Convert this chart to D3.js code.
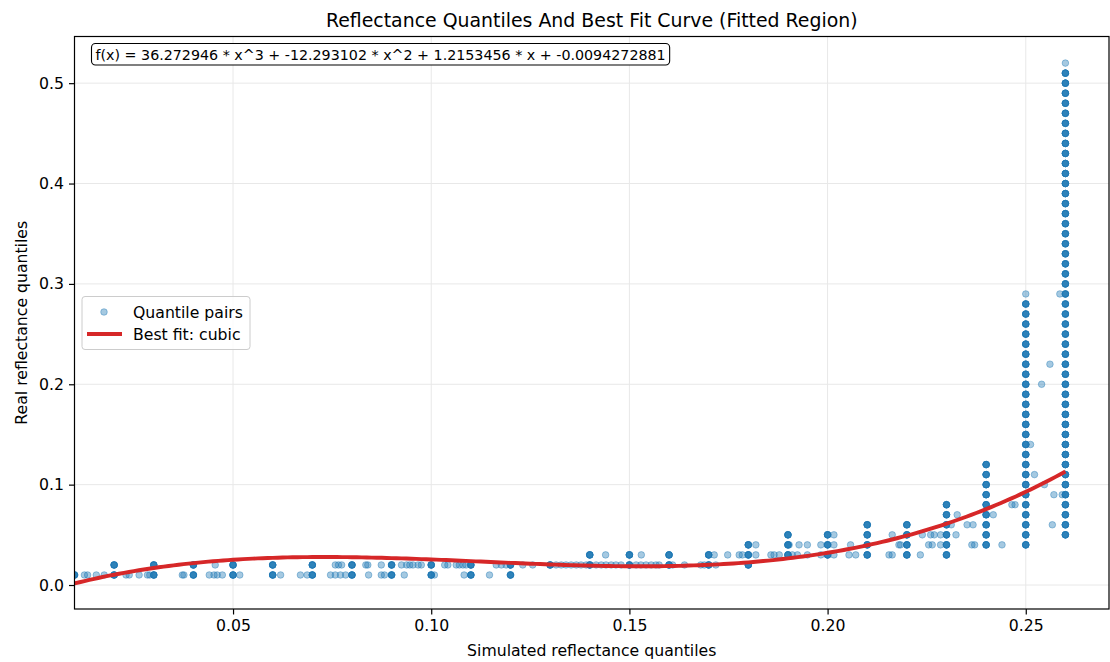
<!DOCTYPE html>
<html>
<head>
<meta charset="utf-8">
<script src="https://cdn.jsdelivr.net/npm/d3@7"></script>
<style>
  html, body { margin: 0; padding: 0; background: #fff; }
  svg { display: block; font-family: "DejaVu Sans", sans-serif; }
</style>
</head>
<body>
<svg id="chart" width="1110" height="662"></svg>
<script>
// Simulated-quantile grid columns where several quantile pairs coincide
const stackSim = [0.01, 0.02, 0.03, 0.04, 0.05, 0.06, 0.07, 0.08, 0.09, 0.10, 0.11, 0.12, 0.13,
  0.14, 0.15, 0.16, 0.17, 0.18, 0.19, 0.20, 0.21, 0.22, 0.23, 0.24, 0.25, 0.26];
// Real-quantile values stacked in each of those columns
const stackReal = [
  [0.01],
  [0.01, 0.02], [0.01, 0.02], [0.01, 0.02], [0.01, 0.02], [0.01, 0.02], [0.01, 0.02],
  [0.01, 0.02], [0.01, 0.02], [0.01, 0.02], [0.01, 0.02], [0.01, 0.02],
  [0.02],
  [0.02, 0.03], [0.02, 0.03], [0.02, 0.03], [0.02, 0.03],
  [0.02, 0.03, 0.04],
  [0.03, 0.04, 0.05], [0.03, 0.04, 0.05],
  [0.03, 0.04, 0.05, 0.06], [0.03, 0.04, 0.05, 0.06],
  [0.03, 0.04, 0.05, 0.06, 0.07, 0.08],
  [0.04, 0.05, 0.06, 0.07, 0.08, 0.09, 0.10, 0.11, 0.12],
  [0.04, 0.05, 0.06, 0.07, 0.08, 0.09, 0.10, 0.11, 0.12, 0.13, 0.14, 0.15, 0.16, 0.17, 0.18,
   0.19, 0.20, 0.21, 0.22, 0.23, 0.24, 0.25, 0.26, 0.27, 0.28],
  [0.05, 0.06, 0.07, 0.08, 0.09, 0.10, 0.11, 0.12, 0.13, 0.14, 0.15, 0.16, 0.17, 0.18, 0.19,
   0.20, 0.21, 0.22, 0.23, 0.24, 0.25, 0.26, 0.27, 0.28, 0.29, 0.30, 0.31, 0.32, 0.33, 0.34,
   0.35, 0.36, 0.37, 0.38, 0.39, 0.40, 0.41, 0.42, 0.43, 0.44, 0.45, 0.46, 0.47, 0.48, 0.49,
   0.50, 0.51]
];
// Number of coinciding pairs drawn at each stacked grid point
const stackDepth = 5;

// Real-quantile levels of the single (non-coinciding) pairs
const looseReal = [0.01, 0.02, 0.03, 0.04, 0.05, 0.06, 0.07, 0.08, 0.09, 0.10, 0.11, 0.14, 0.20, 0.22, 0.29, 0.52];
// Simulated quantiles of the single pairs at each level
const looseSim = [
  [0.0125, 0.0133, 0.0155, 0.0175, 0.023, 0.0238, 0.0263, 0.0284, 0.029, 0.0372, 0.0376, 0.044,
   0.0452, 0.046, 0.0473, 0.0517, 0.062, 0.067, 0.0687, 0.0746, 0.0758, 0.0771, 0.0784, 0.0842,
   0.0874, 0.0882, 0.0932, 0.1008, 0.1083, 0.1147],
  [0.0455, 0.0758, 0.0766, 0.0774, 0.0835, 0.084, 0.0874, 0.0925, 0.0938, 0.0946, 0.0954, 0.0967,
   0.0975, 0.1034, 0.1042, 0.1063, 0.1071, 0.108, 0.1088, 0.1164, 0.1177, 0.1189, 0.1231, 0.1256,
   0.1315, 0.1328, 0.134, 0.1353, 0.1366, 0.1378, 0.1391, 0.1416, 0.1429, 0.1441, 0.1454, 0.1466,
   0.1479, 0.1517, 0.1529, 0.1542, 0.1555, 0.1567, 0.1575, 0.1609, 0.1639, 0.168, 0.1689, 0.1718],
  [0.144, 0.153, 0.1714, 0.1748, 0.1777, 0.1785, 0.1819, 0.1857, 0.1865, 0.1878, 0.1911, 0.1924,
   0.1949, 0.1983, 0.2016, 0.2054, 0.2071, 0.2155, 0.2163, 0.2234],
  [0.1819, 0.1903, 0.1928, 0.1949, 0.1983, 0.2016, 0.2058, 0.218, 0.2184, 0.2255, 0.2264, 0.2285,
   0.2364, 0.2371, 0.244],
  [0.2016, 0.2163, 0.2239, 0.226, 0.2269, 0.2285, 0.2324],
  [0.2312, 0.2352, 0.2367, 0.2567],
  [0.2327, 0.2418],
  [0.2465, 0.2473],
  [0.2571, 0.2592],
  [0.2547],
  [0.2522],
  [0.2512],
  [0.254],
  [0.2561],
  [0.25, 0.2586],
  [0.26]
];

// Cubic best-fit coefficients, highest power first
const fitCoefficients = [36.272946, -12.293102, 1.2153456, -0.0094272881];
const fitRange = [0.01, 0.26];

const xTicks = [0.05, 0.10, 0.15, 0.20, 0.25];
const yTicks = [0.0, 0.1, 0.2, 0.3, 0.4, 0.5];

const titleText = "Reflectance Quantiles And Best Fit Curve (Fitted Region)";
const xLabelText = "Simulated reflectance quantiles";
const yLabelText = "Real reflectance quantiles";
const legendLabels = ["Quantile pairs", "Best fit: cubic"];

// ---- layout ----
const plot = { left: 74.5, right: 1109, top: 36.5, bottom: 609 };
const blue = "#1f77b4", red = "#d62728";
const fs = 15.7;       // tick, axis-label and legend text
const fsTitle = 18.9;
const fsBox = 14.25;
const markR = 3.3;

const svg = d3.select("#chart");

const x = d3.scaleLinear().domain([0.01, 0.271]).range([plot.left, plot.right]);
const y = d3.scaleLinear().domain([-0.0239, 0.5465]).range([plot.bottom, plot.top]);

// grid
const grid = svg.append("g").attr("stroke", "#e8e8e8").attr("stroke-width", 1);
grid.selectAll("line.gx").data(xTicks).join("line")
  .attr("x1", d => x(d)).attr("x2", d => x(d))
  .attr("y1", plot.top).attr("y2", plot.bottom);
grid.selectAll("line.gy").data(yTicks).join("line")
  .attr("x1", plot.left).attr("x2", plot.right)
  .attr("y1", d => y(d)).attr("y2", d => y(d));

svg.append("clipPath").attr("id", "plotclip").append("rect")
  .attr("x", plot.left).attr("y", plot.top)
  .attr("width", plot.right - plot.left).attr("height", plot.bottom - plot.top);

const marks = svg.append("g").attr("clip-path", "url(#plotclip)");

// scatter points: singles first, then stacked grid points
const pts = [];
looseReal.forEach((r, i) => looseSim[i].forEach(s => pts.push([s, r])));
stackSim.forEach((s, i) => stackReal[i].forEach(r => {
  for (let k = 0; k < stackDepth; k++) pts.push([s, r]);
}));

marks.append("g").selectAll("circle").data(pts).join("circle")
  .attr("cx", d => x(d[0])).attr("cy", d => y(d[1]))
  .attr("r", markR)
  .attr("fill", blue).attr("fill-opacity", 0.4)
  .attr("stroke", blue).attr("stroke-opacity", 0.4).attr("stroke-width", 1);

// fitted cubic
const poly = v => fitCoefficients.reduce((acc, c) => acc * v + c, 0);
const curveX = d3.range(0, 201).map(i => fitRange[0] + (fitRange[1] - fitRange[0]) * i / 200);
marks.append("path")
  .datum(curveX)
  .attr("fill", "none").attr("stroke", red).attr("stroke-width", 3.9)
  .attr("d", d3.line().x(d => x(d)).y(d => y(poly(d))));

// axes
const xAxis = d3.axisBottom(x).tickValues(xTicks).tickFormat(d3.format(".2f")).tickSize(5.5).tickPadding(5);
const yAxis = d3.axisLeft(y).tickValues(yTicks).tickFormat(d3.format(".1f")).tickSize(5.5).tickPadding(5);

const gx = svg.append("g").attr("transform", `translate(0,${plot.bottom})`).call(xAxis);
const gy = svg.append("g").attr("transform", `translate(${plot.left},0)`).call(yAxis);
[gx, gy].forEach(g => {
  g.select(".domain").remove();
  g.selectAll(".tick line").attr("stroke", "#000").attr("stroke-width", 1.2);
  g.selectAll(".tick text").attr("fill", "#000").style("font-size", fs + "px")
    .style("font-family", "DejaVu Sans, sans-serif");
});

// frame
svg.append("rect")
  .attr("x", plot.left).attr("y", plot.top)
  .attr("width", plot.right - plot.left).attr("height", plot.bottom - plot.top)
  .attr("fill", "none").attr("stroke", "#000").attr("stroke-width", 1.2);

// titles
svg.append("text").attr("x", (plot.left + plot.right) / 2).attr("y", 27)
  .attr("text-anchor", "middle").style("font-size", fsTitle + "px").text(titleText);
svg.append("text").attr("x", (plot.left + plot.right) / 2).attr("y", 656)
  .attr("text-anchor", "middle").style("font-size", fs + "px").text(xLabelText);
svg.append("text").attr("transform", `translate(27,${(plot.top + plot.bottom) / 2}) rotate(-90)`)
  .attr("text-anchor", "middle").style("font-size", fs + "px").text(yLabelText);

// equation box
const eq = `f(x) = ${fitCoefficients[0]} * x^3 + ${fitCoefficients[1]} * x^2 + ${fitCoefficients[2]} * x + ${fitCoefficients[3]}`;
const eqG = svg.append("g");
const eqText = eqG.append("text").attr("x", 95.5).attr("y", 59.5)
  .style("font-size", fsBox + "px").text(eq);
const bb = eqText.node().getBBox();
eqG.insert("rect", "text")
  .attr("x", bb.x - 4).attr("y", 43.5)
  .attr("width", bb.width + 8).attr("height", 21.5)
  .attr("rx", 4).attr("fill", "#fff").attr("stroke", "#000").attr("stroke-width", 1.1);

// legend
const lg = svg.append("g");
lg.append("rect").attr("x", 82).attr("y", 296.5).attr("width", 168).attr("height", 53)
  .attr("rx", 3).attr("fill", "#fff").attr("fill-opacity", 0.8)
  .attr("stroke", "#cccccc").attr("stroke-width", 1);
lg.append("circle").attr("cx", 104).attr("cy", 312).attr("r", markR)
  .attr("fill", blue).attr("fill-opacity", 0.4)
  .attr("stroke", blue).attr("stroke-opacity", 0.4);
lg.append("line").attr("x1", 87).attr("x2", 122).attr("y1", 334).attr("y2", 334)
  .attr("stroke", red).attr("stroke-width", 3.9);
lg.selectAll("text.l").data(legendLabels).join("text")
  .attr("x", 133).attr("y", (d, i) => 317.5 + i * 22.5)
  .style("font-size", fs + "px").text(d => d);
</script>
</body>
</html>
